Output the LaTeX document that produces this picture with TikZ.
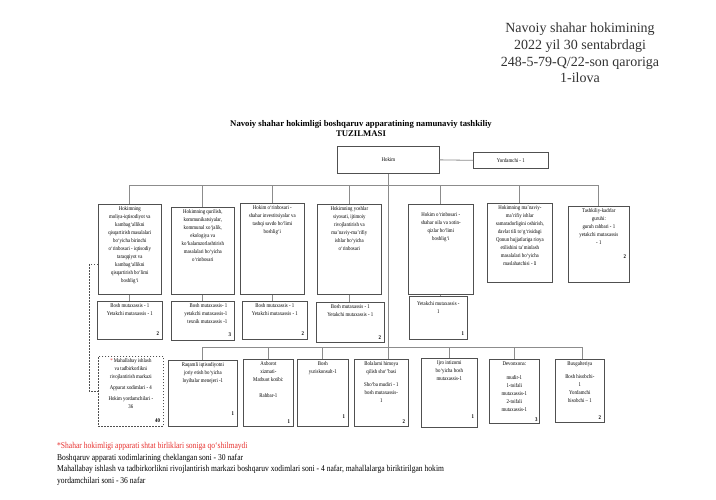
\documentclass[tikz,border=0pt]{standalone}
\usepackage{fontspec}
\setmainfont{Liberation Serif}
\newfontfamily\serifmain{Liberation Serif}
\newfontfamily\narrowfont[FakeStretch=0.85]{Liberation Serif}
\usetikzlibrary{positioning}
\definecolor{linegray}{HTML}{8C8C8C}
\definecolor{boxline}{HTML}{505050}
\definecolor{notered}{HTML}{E8312F}

\begin{document}
\begin{tikzpicture}[
x=1pt, y=-1pt, unit/.style={rectangle, draw=boxline, line width=0.7pt, anchor=north west, inner sep=0pt}, unitdash/.style={unit, dash pattern=on 1.5pt off 1.5pt}, boxtext/.style={anchor=north, align=center, font=\narrowfont\fontsize{5.7}{8}\selectfont, inner sep=2.5pt}, boxnum/.style={anchor=south east, font=\narrowfont\fontsize{5.7}{8}\selectfont\bfseries, inner sep=3.5pt}, link/.style={draw=linegray, line width=0.8pt} ]
\path[use as bounding box, fill=white] (0,0) rectangle (716,500);
\node[font=\serifmain\fontsize{14}{16.7}\selectfont, align=center, text=black!80] (decree) at (580,53) {Navoiy shahar hokimining\\ 2022 yil 30 sentabrdagi\\ 248-5-79-Q/22-son qaroriga\\ 1-ilova};
\node[font=\serifmain\bfseries\fontsize{8.7}{10}\selectfont, align=center] (title) at (361,129) {Navoiy shahar hokimligi boshqaruv apparatining namunaviy tashkiliy\\ TUZILMASI};
\node[unit, minimum width=102pt, minimum height=27pt, font=\narrowfont\fontsize{5.7}{8}\selectfont] (hokim) at (337,146) {Hokim};
\node[unit, minimum width=75pt, minimum height=16pt, font=\narrowfont\fontsize{5.7}{8}\selectfont] (yordam) at (473,152) {Yordamchi - 1};
% deputies
\node[unit, minimum width=63pt, minimum height=90pt, label={[boxtext]north:{Hokimning\\ moliya-iqtisodiyot va\\ kambag‘allikni\\ qisqartirish masalalari\\ bo‘yicha birinchi\\ o‘rinbosari - iqtisodiy\\ taraqqiyot va\\ kambag‘allikni\\ qisqartirish bo‘limi\\ boshlig‘i}}] (t1) at (98,204) {};
\node[unit, minimum width=63pt, minimum height=87pt, label={[boxtext]north:{Hokimning qurilish,\\ kommunikatsiyalar,\\ kommunal xo‘jalik,\\ ekologiya va\\ ko‘kalamzorlashtirish\\ masalalari bo‘yicha\\ o‘rinbosari}}] (t2) at (171,207) {};
\node[unit, minimum width=64pt, minimum height=91pt, label={[boxtext]north:{Hokim o‘rinbosari -\\ shahar investitsiyalar va\\ tashqi savdo bo‘limi\\ boshlig‘i}}] (t3) at (240,203) {};
\node[unit, minimum width=64pt, minimum height=90pt, label={[boxtext]north:{Hokimning yoshlar\\ siyosati, ijtimoiy\\ rivojlantirish va\\ ma’naviy-ma’rifiy\\ ishlar bo‘yicha\\ o‘rinbosari}}] (t4) at (317,204) {};
\node[unit, minimum width=65pt, minimum height=90pt, label={[boxtext, yshift=-6pt]north:{Hokim o‘rinbosari -\\ shahar oila va xotin-\\ qizlar bo‘limi\\ boshlig‘i}}] (t5) at (408,204) {};
\node[unit, minimum width=65pt, minimum height=79pt, label={[boxtext]north:{Hokimning ma’naviy-\\ ma’rifiy ishlar\\ samaradorligini oshirish,\\ davlat tili to‘g‘risidagi\\ Qonun hujjatlariga rioya\\ etilishini ta’minlash\\ masalalari bo‘yicha\\ maslahatchisi - \textbf{1}}}] (t6) at (487,203) {};
\node[unit, minimum width=61pt, minimum height=76pt, label={[boxtext]north:{Tashkiliy-kadrlar\\ guruhi:\\ guruh rahbari - 1\\ yetakchi mutaxassis\\ - 1}}, label={[boxnum, yshift=20pt]south east:2}] (t7) at (568,206) {};
% staff under deputies
\node[unit, minimum width=65pt, minimum height=38pt, label={[boxtext]north:{Bosh mutaxassis - 1\\ Yetakchi mutaxassis - 1}}, label={[boxnum]south east:2}] (s1) at (97,301) {};
\node[unit, minimum width=63pt, minimum height=39pt, label={[boxtext, align=right, xshift=3pt]north:{Bosh mutaxassis- 1\\ yetakchi mutaxassis-1\\ texnik mutaxassis -1}}, label={[boxnum]south east:3}] (s2) at (171,301) {};
\node[unit, minimum width=65pt, minimum height=38pt, label={[boxtext]north:{Bosh mutaxassis - 1\\ Yetakchi mutaxassis - 1}}, label={[boxnum]south east:2}] (s3) at (242,301) {};
\node[unit, minimum width=68pt, minimum height=40pt, label={[boxtext]north:{Bosh mutaxassis - 1\\ Yetakchi mutaxassis - 1}}, label={[boxnum]south east:2}] (s4) at (316,302) {};
\node[unit, minimum width=58pt, minimum height=43pt, label={[boxtext, yshift=-3pt]north:{Yetakchi mutaxassis -\\ 1}}, label={[boxnum]south east:1}] (s5) at (409,296) {};
% services
\node[unitdash, minimum width=65pt, minimum height=70pt, label={[boxtext]north:{\textcolor{notered}{*} Mahallabay ishlash\\ va tadbirkorlikni\\ rivojlantirish markazi\\[3pt] Apparat xodimlari - 4\\[3pt] Hokim yordamchilari -\\ 36}}, label={[boxnum]south east:40}] (b1) at (98,356) {};
\node[unit, minimum width=69pt, minimum height=66pt, label={[boxtext]north:{Raqamli iqtisodiyotni\\ joriy etish bo‘yicha\\ loyihalar menejeri -1}}, label={[boxnum, yshift=8pt]south east:1}] (b2) at (168,360) {};
\node[unit, minimum width=50pt, minimum height=67pt, label={[boxtext]north:{Axborot\\ xizmati-\\ Matbuot kotibi:\\[8pt] Rahbar-1}}, label={[boxnum]south east:1}] (b3) at (243,359) {};
\node[unit, minimum width=51pt, minimum height=67pt, label={[boxtext]north:{Bosh\\ yuriskonsult-1}}, label={[boxnum, yshift=5pt]south east:1}] (b4) at (297,359) {};
\node[unit, minimum width=54pt, minimum height=67pt, label={[boxtext]north:{Bolalarni himoya\\ qilish sho‘’basi\\[5pt] Sho‘ba mudiri - 1\\ bosh mutaxassis-\\ 1}}, label={[boxnum]south east:2}] (b5) at (354,359) {};
\node[unit, minimum width=56pt, minimum height=69pt, label={[boxtext]north:{Ijro intizomi\\ bo‘yicha bosh\\ mutaxassis-1}}, label={[boxnum, yshift=6pt]south east:1}] (b6) at (421,358) {};
\node[unit, minimum width=50pt, minimum height=64pt, label={[boxtext]north:{Devonxona:\\[6pt] mudir-1\\ 1-toifali\\ mutaxassis-1\\ 2-toifali\\ mutaxassis-1}}, label={[boxnum, inner sep=2pt]south east:3}] (b7) at (489,359) {};
\node[unit, minimum width=49pt, minimum height=63pt, label={[boxtext]north:{Buxgalteriya\\[5pt] Bosh hisobchi-\\ 1\\ Yordamchi\\ hisobchi – 1}}, label={[boxnum]south east:2}] (b8) at (555,359) {};
\node[anchor=north west, align=left, inner sep=0pt, font=\narrowfont\fontsize{8.9}{11.7}\selectfont] (notes) at (57,442) {\textcolor{notered}{*Shahar hokimligi apparati shtat birliklari soniga qo‘shilmaydi}\\ Boshqaruv apparati xodimlarining cheklangan soni - 30 nafar\\ Mahallabay ishlash va tadbirkorlikni rivojlantirish markazi boshqaruv xodimlari soni - 4 nafar, mahallalarga biriktirilgan hokim\\ yordamchilari soni - 36 nafar};
\coordinate (topbus) at (0,185);
\coordinate (lowbus) at (0,347);
\draw[link] (hokim.east) -- (yordam.west);
\draw[link] (hokim.south) -- (hokim.south |- b5.north);
\draw[link] (t1.north |- topbus) -- (t7.north |- topbus);
\draw[link] (t1.north) -- (t1.north |- topbus);
\draw[link] (t2.north) -- (t2.north |- topbus);
\draw[link] (t3.north) -- (t3.north |- topbus);
\draw[link] (t4.north) -- (t4.north |- topbus);
\draw[link] (t5.north) -- (t5.north |- topbus);
\draw[link] (t6.north) -- (t6.north |- topbus);
\draw[link] (t7.north) -- (t7.north |- topbus);
\draw[link] (t1.south) -- (t1.south |- s1.north);
\draw[link] (t2.south) -- (t2.south |- s2.north);
\draw[link] (t3.south) -- (t3.south |- s3.north);
\draw[link] (t4.south) -- (t4.south |- s4.north);
\draw[link] (t5.south) -- (t5.south |- s5.north);
\draw[link] (b2.north |- lowbus) -- ([xshift=3pt]b8.north |- lowbus);
\draw[link] (b2.north) -- (b2.north |- lowbus);
\draw[link] (b3.north) -- (b3.north |- lowbus);
\draw[link] (b4.north) -- (b4.north |- lowbus);
\draw[link] (b6.north) -- (b6.north |- lowbus);
\draw[link] (b7.north) -- (b7.north |- lowbus);
\draw[link] ([xshift=3pt]b8.north) -- ([xshift=3pt]b8.north |- lowbus);
\draw[draw=boxline, line width=0.6pt, dash pattern=on 1.5pt off 1.5pt] ([yshift=-15pt]t1.west) -- ++(-9,0) |- (b1.west);
\end{tikzpicture}
\end{document}
